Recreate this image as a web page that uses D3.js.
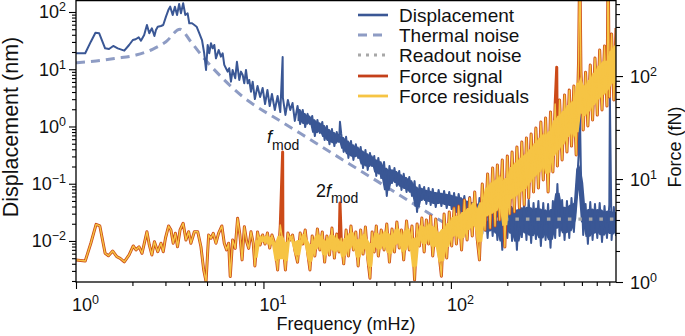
<!DOCTYPE html>
<html><head><meta charset="utf-8">
<script src="https://cdn.jsdelivr.net/npm/d3@7"></script>
<style>
body{margin:0;background:#fff;}
svg{display:block;font-family:"Liberation Sans",Arial,Helvetica,sans-serif;}
</style></head><body>
<svg id="chart" width="685" height="336"></svg>
<script>
// ---------- data (frequency in mHz, displacement in nm, force in fN) ----------
const dispLow = [[1.00,19.0],[1.12,19.0],[1.20,30.3],[1.27,43.5],[1.33,42.4],[1.43,23.2],[1.50,22.6],[1.58,25.5],[1.67,23.2],[1.81,21.1],[1.92,26.5],[2.01,32.4],[2.08,33.4],[2.16,36.1],[2.22,31.5],[2.31,39.7],[2.39,59.3],[2.46,42.4],[2.54,51.9],[2.62,38.1],[2.67,48.5],[2.73,55.4],[2.84,56.9],[2.92,59.3],[3.02,82.8],[3.12,111],[3.18,124],[3.28,88.7],[3.37,124],[3.46,88.7],[3.55,138],[3.63,94.9],[3.73,142],[3.83,88.7],[3.94,94.9],[4.02,63.5],[4.16,63.5],[4.28,59.3],[4.40,55.4],[4.55,42.4],[4.70,32.4],[4.83,19.0],[4.94,9.7],[5.04,26.5],[5.14,19.0],[5.25,28.4],[5.36,23.2],[5.47,26.5],[5.58,15.5],[5.77,21.7],[5.93,16.6],[6.06,19.0],[6.18,11.9],[6.31,10.4],[6.44,9.08],[6.57,10.4],[6.71,6.06],[6.85,9.7],[7.07,6.95],[7.22,13.5],[7.43,6.49],[7.59,9.08],[7.75,7.94],[7.90,5.69],[8.07,9.7],[8.24,5.69],[8.40,6.49],[8.58,4.05],[8.76,6.06]];

const forceLow = [[1.00,1.64],[1.12,1.60],[1.20,2.38],[1.28,3.63],[1.34,3.50],[1.43,1.90],[1.49,1.80],[1.57,2.00],[1.65,1.76],[1.72,1.70],[1.81,1.57],[1.92,1.83],[2.02,2.24],[2.09,2.05],[2.17,2.20],[2.25,1.90],[2.39,3.08],[2.46,2.29],[2.54,1.83],[2.62,2.46],[2.73,1.97],[2.84,2.38],[2.92,1.97],[3.00,2.66],[3.12,3.50],[3.21,3.20],[3.30,2.38],[3.39,2.97],[3.48,2.20],[3.59,3.20],[3.73,3.72],[3.86,2.56],[3.99,3.08],[4.10,2.38],[4.28,3.08],[4.46,3.08],[4.64,2.20],[4.80,1.31],[4.94,1.01],[5.10,2.86],[5.25,2.66],[5.40,2.97],[5.58,2.38],[5.76,2.97],[6.00,3.50],[6.18,2.38],[6.36,2.05],[6.52,2.38],[6.65,1.13],[6.85,2.56],[7.07,2.12],[7.28,4.15],[7.49,2.86],[7.69,1.64],[7.91,3.44],[8.14,2.46],[8.34,2.12],[8.58,3.08],[8.82,2.38]];

const freqHi = [9,9.3,9.6,9.9,10.2,10.5,10.8,11.1,11.5,11.9,
12.3,12.7,13.1,13.5,13.9,14.3,14.7,15.2,15.7,16.2,
16.7,17.2,17.7,18.2,18.8,19.4,20,20.6,21.2,21.8,
22.5,23.2,23.9,24.6,25.3,26,26.8,27.6,28.4,29.3,
30.2,31.1,32,33,34,35,36,37,38,39,
40,41,42.5,44,45.5,47,48.5,50,51.5,53,
54.5,56,58,60,62,64,66,68,70,72,
74,76,78,80,83,86,89,92,95,98,
101,104,107,110,114,118,122,126,130,134,
138,142,147,152,157,162,167,172,177,182,
188,194,200,206,212,218,225,232,239,246,
253,260,268,276,284,293,302,311,320,330,
340,350,360,370,380,392,404,416,428,440,
453,466,480,494,508,523,538,554,570,587,
604,622,640,660,680,700,720,740,760];

const dispHi = [3.02,5.10,3.27,4.71,2.47,4.34,2.28,3.70,1.94,3.41,
1.79,3.15,1.59,2.90,1.94,2.57,1.25,2.28,1.10,1.94,
0.98,1.66,1.10,1.53,0.68,1.30,0.77,1.20,0.581,1.02,
0.49,0.90,0.456,0.80,0.535,0.74,0.36,0.66,0.282,0.56,
0.260,0.49,0.282,0.44,0.188,0.389,0.174,0.345,0.204,0.306,
0.137,0.282,0.126,0.24,0.0611,0.204,0.103,0.188,0.0914,0.167,
0.0778,0.149,0.0718,0.131,0.0611,0.111,0.0321,0.0951,0.052,0.0878,
0.0443,0.0843,0.0425,0.081,0.0392,0.0778,0.0408,0.0747,0.0377,0.0718,
0.0362,0.069,0.0321,0.0663,0.0296,0.0611,0.0215,0.0587,0.0184,0.0542,
0.0156,0.0564,0.0133,0.050,0.0113,0.052,0.0122,0.0461,0.0104,0.050,
0.0070,0.048,0.0113,0.0542,0.0100,0.0461,0.0070,0.050,0.0117,0.048,
0.0104,0.052,0.0092,0.0461,0.0108,0.050,0.0082,0.0461,0.0104,0.0443,
0.0076,0.050,0.0113,0.099,0.0122,0.052,0.0104,0.050,0.0113,0.0564,
0.0144,0.060,0.30,0.16,0.0127,0.0443,0.0089,0.048,0.0104,0.0443,
0.0113,0.0461,0.0096,0.0408,0.0113,0.0425,0.0104,0.0392,0.0122];

const forceHi = [1.43,3.06,2.29,2.86,2.34,2.99,2.14,2.86,2.34,1.31,
3.58,2.44,1.31,2.99,2.56,2.86,2.05,1.56,2.99,2.34,
3.20,1.96,1.31,2.80,1.79,3.27,2.05,3.06,1.56,2.80,
1.83,3.34,1.71,2.92,1.96,2.67,1.50,3.20,1.79,3.50,
2.05,3.06,1.43,3.20,1.87,3.42,1.71,1.09,3.06,1.96,
3.50,1.79,3.20,2.05,3.66,1.56,3.27,1.96,3.83,2.14,
3.20,1.64,3.91,2.05,3.50,1.05,3.66,2.24,4.18,1.96,
4.00,2.34,4.37,1.79,4.09,2.05,1.14,4.57,1.71,4.78,
2.24,5.23,2.34,5.47,2.05,6.25,2.56,6.54,2.80,7.48,
2.67,1.64,8.94,3.20,11.2,3.34,12.8,3.50,13.7,4.00,
15.3,2.19,16.7,4.57,18.3,4.78,20.5,5.23,22.9,5.59,
25.0,6.54,27.4,7.48,31.3,8.18,35.8,9.78,39.1,7.48,
44.7,11.7,53.5,13.4,58.5,15.3,65.4,18.3,73.1,20.9,
80,17.1,143,114,29.9,109,32.7,128,37.4,150,
41.8,179,46.8,196,51.1,62.5,256,58.5,292];

// narrow lines in the spectra
const dispPeaks = [[12.66,16.4],[25.6,1.21],[487,2.37],[705,3.15]];
const forcePeaks = [[487,1500],[690,1500]];               // in signal and residuals
const signalPeaks = [[12.66,18.3],[25.6,5.85],[367,122]]; // only in force signal

const thermal = [[1,13.0],[1.28,13.9],[1.63,15.5],[2.09,17.7],[2.56,22.3],[3.02,30.3],[3.59,49.9],[4.10,30.3],[4.74,16.6],[6.06,6.95],[7.75,3.32],[8.47,2.68],[12.75,1.16],[19.2,0.505],[28.9,0.219],[43.5,0.0955],[65.6,0.0414],[100,0.0176]];
const readoutFreq = [150, 760];
const readoutLevel = 0.024;

const xMajor = [1,10,100], xExp = ["0","1","2"];
const yLMajor = [0.01,0.1,1,10,100], yLExp = ["\u22122","\u22121","0","1","2"];
const yRMajor = [1,10,100], yRExp = ["0","1","2"];
const minorMult = [2,3,4,5,6,7,8,9];

const C = {disp:"#3a5795", thermal:"#8e9cc4", readout:"#a8a8a8", signal:"#cc4a18", resid:"#f6c444"};
const legendItems = [
  {label:"Displacement", color:C.disp, dash:null, w:2.6},
  {label:"Thermal noise", color:C.thermal, dash:"9,6", w:3},
  {label:"Readout noise", color:C.readout, dash:"3,5", w:3},
  {label:"Force signal", color:"#c4401a", dash:null, w:2.8},
  {label:"Force residuals", color:C.resid, dash:null, w:2.8}
];

// ---------- chart ----------
const svg = d3.select("#chart");
const L=76, R=616, T=0, B=282;
const x = d3.scaleLog().domain([1,760]).range([L,R]);
const yL = d3.scaleLog().domain([0.00192,162]).range([B,T]);
const yR = d3.scaleLog().domain([1,548]).range([B,T]);

const byF = (a,b)=>a[0]-b[0];
const dispData = dispLow.concat(freqHi.map((f,i)=>[f,dispHi[i]]), dispPeaks).sort(byF);
const resData = forceLow.concat(freqHi.map((f,i)=>[f,forceHi[i]]), forcePeaks).sort(byF);
const sigData = resData.concat(signalPeaks).sort(byF);
const readout = readoutFreq.map(f=>[f,readoutLevel]);
// core of the dense high-frequency spectra: local (3-bin) min/max, pulled inward in log space,
// so that the zig-zag of the line itself still forms the ragged edges
const band = (vals, fmin, k) => freqHi.map((f,i)=>{
  const w=vals.slice(Math.max(0,i-1),i+2), lo=d3.min(w), hi=d3.max(w), r=Math.pow(hi/lo,k);
  return [f, lo*r, hi/r];
}).filter(d=>d[0]>=fmin);
const dispBand = band(dispHi, 15, 0.17), forceBand = band(forceHi, 9, 0.24);

svg.append("clipPath").attr("id","clip").append("rect")
  .attr("x",L).attr("y",T).attr("width",R-L).attr("height",B-T);
const g = svg.append("g").attr("clip-path","url(#clip)");

const lineL = d3.line().x(d=>x(d[0])).y(d=>yL(d[1]));
const lineLsmooth = d3.line().x(d=>x(d[0])).y(d=>yL(d[1])).curve(d3.curveMonotoneX);
const lineR = d3.line().x(d=>x(d[0])).y(d=>yR(d[1]));
const areaL = d3.area().x(d=>x(d[0])).y0(d=>yL(d[1])).y1(d=>yL(d[2]));
const areaR = d3.area().x(d=>x(d[0])).y0(d=>yR(d[1])).y1(d=>yR(d[2]));

g.append("path").datum(thermal).attr("d",lineLsmooth).attr("fill","none")
  .attr("stroke",C.thermal).attr("stroke-width",3).attr("stroke-dasharray","9,6");
g.append("path").datum(dispBand).attr("d",areaL).attr("fill",C.disp).attr("stroke","none");
g.append("path").datum(dispData).attr("d",lineL).attr("fill","none")
  .attr("stroke",C.disp).attr("stroke-width",2.0).attr("stroke-linejoin","round");
g.append("path").datum(readout).attr("d",lineL).attr("fill","none")
  .attr("stroke",C.readout).attr("stroke-width",3.2).attr("stroke-dasharray","3.5,7");
g.append("path").datum(sigData).attr("d",lineR).attr("fill","none")
  .attr("stroke",C.signal).attr("stroke-width",3.0).attr("stroke-linejoin","round");
g.append("path").datum(forceBand).attr("d",areaR).attr("fill",C.resid).attr("stroke","none");
g.append("path").datum(resData).attr("d",lineR).attr("fill","none")
  .attr("stroke",C.resid).attr("stroke-width",1.4).attr("stroke-linejoin","round");

// axes
function minors(lo,hi){const out=[];for(let d=1e-3;d<=1e3;d*=10){minorMult.forEach(m=>{const v=+(m*d).toPrecision(3);if(v>=lo&&v<=hi)out.push(v);});}return out;}
function styleAxis(sel){sel.select(".domain").remove();sel.selectAll("line").attr("stroke","#000").attr("stroke-width",1.1);}

svg.append("g").attr("transform",`translate(0,${B})`)
  .call(d3.axisBottom(x).tickValues(minors(1,760)).tickSize(4).tickFormat("")).call(styleAxis);
svg.append("g").attr("transform",`translate(0,${B})`)
  .call(d3.axisBottom(x).tickValues(xMajor).tickSize(7).tickFormat("")).call(styleAxis);
svg.append("g").attr("transform",`translate(${L},0)`)
  .call(d3.axisLeft(yL).tickValues(minors(0.00192,162)).tickSize(4).tickFormat("")).call(styleAxis);
svg.append("g").attr("transform",`translate(${L},0)`)
  .call(d3.axisLeft(yL).tickValues(yLMajor).tickSize(7).tickFormat("")).call(styleAxis);
svg.append("g").attr("transform",`translate(${R},0)`)
  .call(d3.axisRight(yR).tickValues(minors(1,548)).tickSize(4).tickFormat("")).call(styleAxis);
svg.append("g").attr("transform",`translate(${R},0)`)
  .call(d3.axisRight(yR).tickValues(yRMajor).tickSize(7).tickFormat("")).call(styleAxis);

svg.append("rect").attr("x",L).attr("y",T+0.6).attr("width",R-L).attr("height",B-T-0.6)
  .attr("fill","none").attr("stroke","#000").attr("stroke-width",1.3);

function powLabel(sel,exp){
  sel.append("tspan").text("10");
  sel.append("tspan").attr("dy",-7).attr("font-size",12.5).text(exp);
}
xMajor.forEach((v,i)=>{
  svg.append("text").attr("x",x(v)-4).attr("y",311).attr("font-size",18).attr("fill","#111")
    .call(powLabel,xExp[i]);
});
yLMajor.forEach((v,i)=>{
  svg.append("text").attr("x",66).attr("y",yL(v)+6.5).attr("font-size",18).attr("fill","#111")
    .attr("text-anchor","end").call(powLabel,yLExp[i]);
});
yRMajor.forEach((v,i)=>{
  svg.append("text").attr("x",630).attr("y",yR(v)+6.5).attr("font-size",18).attr("fill","#111")
    .call(powLabel,yRExp[i]);
});

svg.append("text").attr("x",(L+R)/2).attr("y",330).attr("text-anchor","middle")
  .attr("font-size",18).attr("fill","#111").text("Frequency (mHz)");
svg.append("text").attr("transform","translate(18,127) rotate(-90)").attr("text-anchor","middle")
  .attr("font-size",21.5).attr("fill","#111").text("Displacement (nm)");
svg.append("text").attr("transform","translate(681,147) rotate(-90)").attr("text-anchor","middle")
  .attr("font-size",18).attr("fill","#111").text("Force (fN)");

// annotations
const a1 = svg.append("text").attr("x",267).attr("y",143).attr("font-size",18).attr("fill","#111");
a1.append("tspan").attr("font-style","italic").text("f");
a1.append("tspan").attr("dy",7).attr("font-size",14).text("mod");
const a2 = svg.append("text").attr("x",316).attr("y",197).attr("font-size",18).attr("fill","#111");
a2.append("tspan").text("2");
a2.append("tspan").attr("font-style","italic").text("f");
a2.append("tspan").attr("dy",6).attr("font-size",14).text("mod");

// legend
const legRows = [15,35,55,76,96];
legendItems.forEach((it,i)=>{
  const y = legRows[i];
  svg.append("line").attr("x1",358).attr("x2",388).attr("y1",y).attr("y2",y)
    .attr("stroke",it.color).attr("stroke-width",it.w).attr("stroke-dasharray",it.dash);
  svg.append("text").attr("x",399).attr("y",y+6.5).attr("font-size",19).attr("fill","#111").text(it.label);
});
</script>
</body></html>
